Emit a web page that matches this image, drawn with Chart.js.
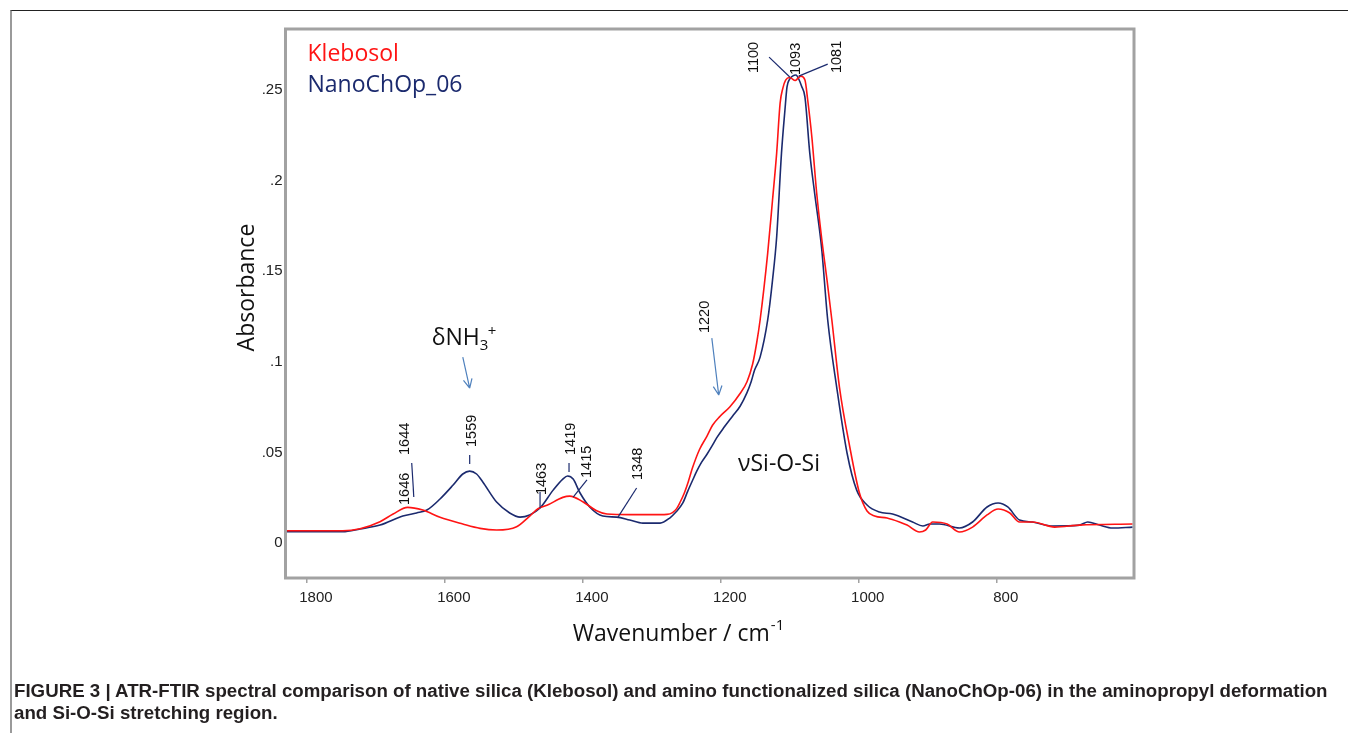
<!DOCTYPE html>
<html>
<head>
<meta charset="utf-8">
<script src="https://cdn.jsdelivr.net/npm/chart.js@4.4.1/dist/chart.umd.min.js"></script>
<style>
  html, body { margin: 0; padding: 0; background: #fff; }
  body { width: 1348px; height: 733px; position: relative; overflow: hidden; }
  #wrap { position: absolute; left: 0; top: 0; width: 1348px; height: 733px; }
  #frame { position: absolute; left: 10px; top: 10px; right: 0; bottom: -5px;
           border-top: 1.5px solid #222; border-left: 2px solid #9a9a9a; }
  #caption { position: absolute; left: 14px; top: 680px; color: #231f20; white-space: nowrap;
             font: bold 18.7px "Liberation Sans", Arial, sans-serif; line-height: 22px; }
</style>
</head>
<body>
<div id="frame"></div>
<div id="wrap"><canvas id="chart"></canvas></div>
<div id="caption">FIGURE 3 | ATR-FTIR spectral comparison of native silica (Klebosol) and amino functionalized silica (NanoChOp-06) in the aminopropyl deformation<br>and Si-O-Si stretching region.</div>
<script>
// wavenumber (cm-1) and absorbance
const klebosolWavenumber = [1829, 1748, 1723, 1694, 1675, 1654, 1632, 1607, 1574, 1549, 1525, 1496, 1477, 1465, 1452,
  1429, 1419, 1400, 1380, 1365, 1332, 1288, 1278, 1270, 1264, 1259, 1253, 1247, 1241, 1231,
  1220, 1212, 1201, 1187, 1172, 1162, 1154, 1148, 1143, 1132, 1125, 1119, 1114, 1110, 1106,
  1100, 1092, 1088, 1084, 1078, 1074, 1068, 1061, 1054, 1046, 1039, 1028, 1013, 999, 988,
  977, 959, 941, 930, 912, 903, 893, 872, 854, 835, 814, 798, 781, 767, 748, 716, 680, 603];
const klebosolAbsorbance = [0.0068, 0.0068, 0.0079, 0.0118, 0.0160, 0.0197, 0.0182, 0.0142, 0.0105, 0.0081, 0.0072, 0.0090, 0.0149, 0.0189, 0.0208,
  0.0252, 0.0259, 0.0228, 0.0178, 0.0160, 0.0157, 0.0157, 0.0158, 0.0168, 0.0190, 0.0225, 0.0275, 0.0340, 0.0415, 0.0515,
  0.0590, 0.0650, 0.0700, 0.0751, 0.0825, 0.0890, 0.0985, 0.1104, 0.1231, 0.1600, 0.1893, 0.2152, 0.2428, 0.2511, 0.2555,
  0.2569, 0.2553, 0.2566, 0.2577, 0.2555, 0.2445, 0.2241, 0.1932, 0.1689, 0.1451, 0.1231, 0.0861, 0.0530, 0.0276, 0.0177,
  0.0149, 0.0138, 0.0116, 0.0099, 0.0061, 0.0072, 0.0116, 0.0105, 0.0061, 0.0088, 0.0155, 0.0188, 0.0166, 0.0116, 0.0116, 0.0088, 0.0099, 0.0105];

const nanoWavenumber = [1829, 1748, 1723, 1694, 1661, 1641, 1626, 1607, 1588, 1574, 1564, 1554, 1545, 1525, 1506,
  1491, 1477, 1462, 1443, 1429, 1422, 1414, 1404, 1390, 1371, 1351, 1332, 1313, 1288, 1274,
  1265, 1255, 1248, 1241, 1235, 1228, 1220, 1212, 1206, 1195, 1183, 1172, 1162, 1156, 1151,
  1143, 1132, 1125, 1119, 1112, 1107, 1104, 1100, 1096, 1091, 1087, 1083, 1078, 1071, 1064,
  1054, 1045, 1032, 1017, 1003, 988, 970, 951, 922, 907, 897, 883, 854, 835, 814,
  798, 784, 767, 748, 719, 680, 668, 651, 632, 603];
const nanoAbsorbance = [0.0062, 0.0062, 0.0077, 0.0099, 0.0149, 0.0166, 0.0182, 0.0243, 0.0320, 0.0381, 0.0397, 0.0381, 0.0337, 0.0226, 0.0166,
  0.0143, 0.0155, 0.0193, 0.0292, 0.0353, 0.0370, 0.0353, 0.0276, 0.0199, 0.0149, 0.0143, 0.0127, 0.0110, 0.0110, 0.0138,
  0.0171, 0.0221, 0.0285, 0.0345, 0.0395, 0.0445, 0.0490, 0.0540, 0.0580, 0.0640, 0.0700, 0.0755, 0.0830, 0.0890, 0.0955,
  0.1026, 0.1231, 0.1451, 0.1689, 0.2152, 0.2390, 0.2517, 0.2561, 0.2577, 0.2583, 0.2561, 0.2522, 0.2461, 0.2152, 0.1932,
  0.1634, 0.1231, 0.0861, 0.0497, 0.0292, 0.0210, 0.0171, 0.0160, 0.0116, 0.0094, 0.0105, 0.0105, 0.0083, 0.0116, 0.0199,
  0.0221, 0.0199, 0.0127, 0.0116, 0.0094, 0.0099, 0.0116, 0.0099, 0.0083, 0.0088];

const xTicks = [1800, 1600, 1400, 1200, 1000, 800];
const yTicks = [0, 0.05, 0.1, 0.15, 0.2, 0.25];

// peak labels: text, anchor wavenumber, anchor absorbance (bottom end of the vertical text)
const peakLabels = [
  ['1100', 1152, 0.2594], ['1093', 1091, 0.2583], ['1081', 1032, 0.2594],
  ['1644', 1658, 0.0486], ['1646', 1658, 0.0210], ['1559', 1561, 0.0530],
  ['1463', 1459, 0.0265], ['1419', 1417, 0.0486], ['1415', 1394, 0.0359],
  ['1348', 1320, 0.0348], ['1220', 1223, 0.1159],
];
const leaderLines = [
  [1130, 0.2682, 1100, 0.2572], [1045, 0.2643, 1087, 0.2577],
  [1648, 0.0442, 1645, 0.0254], [1564, 0.0486, 1564, 0.0436],
  [1462, 0.0281, 1462, 0.0193], [1420, 0.0442, 1420, 0.0392],
  [1394, 0.0348, 1414, 0.0254], [1322, 0.0304, 1349, 0.0143],
];
const arrows = [[1574, 0.1026, 1564, 0.0855], [1213, 0.1131, 1203, 0.0817]];

const RED = '#ff1414';
const NAVY = '#1b2a6e';
const SANS = '"Open Sans", "Noto Sans", sans-serif';
const ARIAL = '"Liberation Sans", Arial, sans-serif';

const figurePlugin = {
  id: 'figureExtras',
  afterDatasetsDraw(chart) {
    const { ctx, chartArea: area, scales: { x, y } } = chart;
    const px = w => x.getPixelForValue(w);
    const py = a => y.getPixelForValue(a);
    ctx.save();

    // plot frame
    ctx.strokeStyle = '#a2a2a2';
    ctx.lineWidth = 3;
    ctx.strokeRect(area.left, area.top, area.right - area.left, area.bottom - area.top);

    // legend as coloured text
    ctx.font = '23px ' + SANS;
    ctx.textAlign = 'left';
    ctx.textBaseline = 'alphabetic';
    chart.data.datasets.forEach((ds, i) => {
      ctx.fillStyle = ds.borderColor;
      ctx.fillText(ds.label, area.left + 22, area.top + 32 + i * 31);
    });

    // axis titles
    ctx.fillStyle = '#111';
    ctx.save();
    ctx.translate(area.left - 32, py(0.141));
    ctx.rotate(-Math.PI / 2);
    ctx.textAlign = 'center';
    ctx.fillText('Absorbance', 0, 0);
    ctx.restore();
    const t1 = 'Wavenumber / cm';
    const w1 = ctx.measureText(t1).width;
    ctx.font = '15px ' + SANS;
    const w2 = ctx.measureText('-1').width;
    const tx = px(1262) - (w1 + w2) / 2;
    ctx.font = '23px ' + SANS;
    ctx.fillText(t1, tx, area.bottom + 63);
    ctx.font = '15px ' + SANS;
    ctx.fillText('-1', tx + w1 + 1, area.bottom + 52);

    // band names
    ctx.font = '23px ' + SANS;
    ctx.fillText('\u03b4NH', px(1619), py(0.1093));
    const wd = ctx.measureText('\u03b4NH').width;
    ctx.font = '15px ' + SANS;
    ctx.fillText('3', px(1619) + wd, py(0.1093) + 5);
    ctx.fillText('+', px(1619) + wd + 8, py(0.1093) - 9);
    ctx.font = '23px ' + SANS;
    ctx.fillText('\u03bdSi-O-Si', px(1175), py(0.0400));

    // peak labels
    ctx.font = '14.5px ' + ARIAL;
    ctx.fillStyle = '#111';
    ctx.textBaseline = 'middle';
    peakLabels.forEach(([text, w, a]) => {
      ctx.save();
      ctx.translate(px(w), py(a));
      ctx.rotate(-Math.PI / 2);
      ctx.fillText(text, 0, 0);
      ctx.restore();
    });

    ctx.strokeStyle = NAVY;
    ctx.lineWidth = 1.2;
    leaderLines.forEach(([w1, a1, w2, a2]) => {
      ctx.beginPath();
      ctx.moveTo(px(w1), py(a1));
      ctx.lineTo(px(w2), py(a2));
      ctx.stroke();
    });

    // blue arrows
    ctx.strokeStyle = '#4f81bd';
    ctx.lineWidth = 1.2;
    arrows.forEach(([w1, a1, w2, a2]) => {
      const x1 = px(w1), y1 = py(a1), x2 = px(w2), y2 = py(a2);
      const ang = Math.atan2(y2 - y1, x2 - x1);
      ctx.beginPath();
      ctx.moveTo(x1, y1);
      ctx.lineTo(x2, y2);
      [0.45, -0.45].forEach(d => {
        ctx.moveTo(x2, y2);
        ctx.lineTo(x2 - 10 * Math.cos(ang + d), y2 - 10 * Math.sin(ang + d));
      });
      ctx.stroke();
    });
    ctx.restore();
  }
};

const toPoints = (xs, ys) => xs.map((w, i) => ({ x: w, y: ys[i] }));

new Chart(document.getElementById('chart'), {
  type: 'line',
  data: {
    datasets: [
      { label: 'Klebosol', data: toPoints(klebosolWavenumber, klebosolAbsorbance), borderColor: RED },
      { label: 'NanoChOp_06', data: toPoints(nanoWavenumber, nanoAbsorbance), borderColor: NAVY },
    ]
  },
  options: {
    responsive: true,
    maintainAspectRatio: false,
    animation: false,
    layout: { padding: { top: 29, right: 214, left: 0, bottom: 0 } },
    elements: {
      point: { radius: 0 },
      line: { borderWidth: 1.6, cubicInterpolationMode: 'monotone', fill: false },
    },
    plugins: { legend: { display: false }, tooltip: { enabled: false } },
    scales: {
      x: {
        type: 'linear',
        reverse: true,
        min: 601,
        max: 1831,
        afterFit: s => { s.height = 155; },
        afterBuildTicks: s => { s.ticks = xTicks.map(v => ({ value: v })); },
        border: { display: false },
        grid: { drawOnChartArea: false, drawTicks: true, tickLength: 5, color: '#a2a2a2', lineWidth: 1.5 },
        ticks: {
          font: { family: ARIAL, size: 15 }, color: '#222', padding: 6, labelOffset: 9, maxRotation: 0,
          callback: v => String(v),
        },
      },
      y: {
        min: -0.0193,
        max: 0.2837,
        afterFit: s => { s.width = 285.5; },
        afterBuildTicks: s => { s.ticks = yTicks.map(v => ({ value: v })); },
        border: { display: false },
        grid: { display: false, drawTicks: false },
        ticks: {
          font: { family: ARIAL, size: 15 }, color: '#222', padding: 3,
          callback: v => v === 0 ? '0' : String(+v.toFixed(2)).replace(/^0/, ''),
        },
      },
    },
  },
  plugins: [figurePlugin],
});
</script>
</body>
</html>
